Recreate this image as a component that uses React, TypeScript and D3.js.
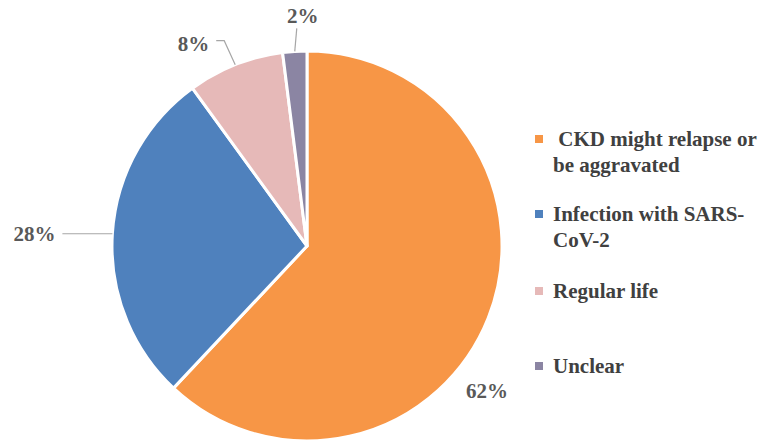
import * as d3 from "d3";
import { useRef, useEffect } from "react";

const categories: string[] = ["CKD might relapse or be aggravated", "Infection with SARS-CoV-2", "Regular life", "Unclear"];
const values: number[] = [62, 28, 8, 2];
const colors: string[] = ["#F79646", "#4F81BD", "#E6B9B8", "#8B85A3"];
const legendLines: string[][] = [["\u00a0CKD might relapse or", "be aggravated"], ["Infection with SARS-", "CoV-2"], ["Regular life"], ["Unclear"]];

const FONT = "Liberation Serif, Times New Roman, DejaVu Serif, serif";

export default function App() {
  const svgRef: any = useRef();

  useEffect(() => {
    const w: number = 763;
    const h: number = 442;
    const cx = 307;
    const cy = 246;
    const r = 195;
    const svg = d3.select(svgRef.current).attr("width", w).attr("height", h);
    svg.selectAll("*").remove();

    const pie = d3.pie<number>().sort(null).value((d) => d);
    const arcs = pie(values);
    const arc = d3.arc<d3.PieArcDatum<number>>().innerRadius(0).outerRadius(r);

    const g = svg.append("g").attr("transform", `translate(${cx},${cy})`);
    g.selectAll("path.slice")
      .data(arcs)
      .join("path")
      .attr("class", "slice")
      .attr("d", arc as any)
      .attr("fill", (d, i) => colors[i])
      .attr("stroke", "#ffffff")
      .attr("stroke-width", 3)
      .attr("stroke-linejoin", "round");

    //label layout: leader line points and text positions relative to slice edge
    const mid = (d: any) => (d.startAngle + d.endAngle) / 2;
    const edge = (d: any, rr: number) => [Math.sin(mid(d)) * rr, -Math.cos(mid(d)) * rr];
    const layout = [
      { line: null, text: [180, 145], anchor: "middle" },
      { line: [[-50, 0]], text: [-57, 0], anchor: "end" },
      { line: [[-11, -24], [-19, -24]], text: [-26, -21], anchor: "end" },
      { line: [[2, -23]], text: [8, -36], anchor: "middle" },
    ];

    arcs.forEach((d, i) => {
      const [ex, ey] = edge(d, r);
      const L = layout[i];
      if (L.line) {
        const pts: [number, number][] = [[ex, ey]];
        L.line.forEach(([dx, dy]) => {
          pts.push([ex + dx, ey + dy]);
        });
        g.append("path")
          .attr("d", d3.line()(pts) as string)
          .attr("fill", "none")
          .attr("stroke", "#A6A6A6")
          .attr("stroke-width", 1.2);
      }
      const tx = i === 0 ? L.text[0] : ex + L.text[0];
      const ty = i === 0 ? L.text[1] : ey + L.text[1];
      g.append("text")
        .attr("x", tx)
        .attr("y", ty)
        .attr("dy", "0.35em")
        .attr("text-anchor", L.anchor)
        .style("font-family", FONT)
        .style("font-weight", "bold")
        .style("font-size", "21px")
        .attr("fill", "#595959")
        .text(`${values[i]}%`);
    });

    //legend
    const legendY = [139, 214, 291, 366];
    const lg = svg.append("g");
    categories.forEach((c, i) => {
      lg.append("rect")
        .attr("x", 535)
        .attr("y", legendY[i] - 4)
        .attr("width", 8)
        .attr("height", 8)
        .attr("fill", colors[i]);
      legendLines[i].forEach((t, j) => {
        lg.append("text")
          .attr("x", 553)
          .attr("y", legendY[i] + j * 26)
          .attr("dy", "0.35em")
          .style("font-family", FONT)
          .style("font-weight", "bold")
          .style("font-size", "21px")
          .attr("fill", "#404040")
          .text(t);
      });
    });
  }, []);

  return (
    <div style={{ position: "absolute", left: 0, top: 0 }}>
      <svg ref={svgRef} style={{ display: "block" }}></svg>
    </div>
  );
}
